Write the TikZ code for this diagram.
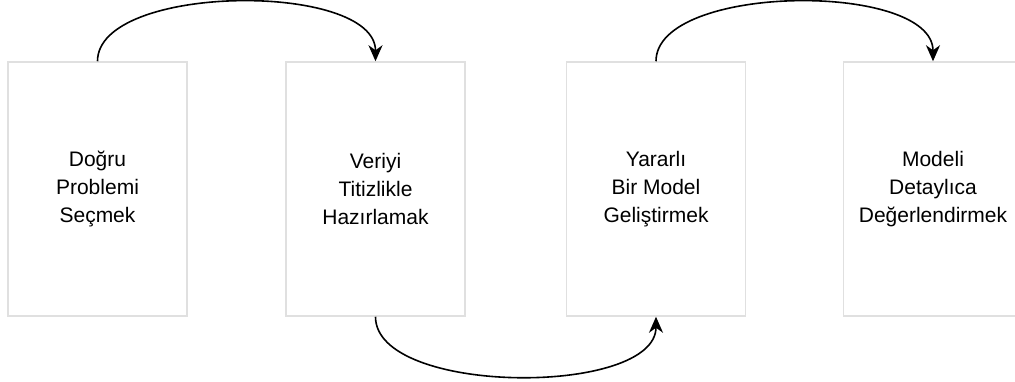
\documentclass[tikz,border=0pt]{standalone}
\usepackage{fontspec}
\setmainfont{Liberation Sans}
\usetikzlibrary{arrows.meta}
\begin{document}
\begin{tikzpicture}[x=1pt,y=-1pt,
  stepbox/.style={draw=black!12, line width=1.5pt, fill=white, minimum width=179pt, minimum height=254pt,
    inner sep=0pt, align=center, font=\fontsize{21}{28}\selectfont},
  flow/.style={line width=1.6pt, -{Stealth[length=16pt,width=14pt,inset=5pt]}}]
\useasboundingbox (0,0) rectangle (1015,382);
\node[stepbox] (b1) at (97.5,189) {Doğru\\Problemi\\Seçmek};
\node[stepbox] (b2) at (375.5,189) {Veriyi\\Titizlikle\\Hazırlamak};
\node[stepbox] (b3) at (656,189) {Yararlı\\Bir Model\\Geliştirmek};
\node[stepbox] (b4) at (933,189) {Modeli\\Detaylıca\\Değerlendirmek};
\draw[flow] (b1.north) .. controls +(0,-78) and +(0,-80) .. (b2.north);
\draw[flow] (b2.south) .. controls +(0,79) and +(0,80) .. (b3.south);
\draw[flow] (b3.north) .. controls +(0,-78) and +(0,-80) .. (b4.north);
\end{tikzpicture}
\end{document}
